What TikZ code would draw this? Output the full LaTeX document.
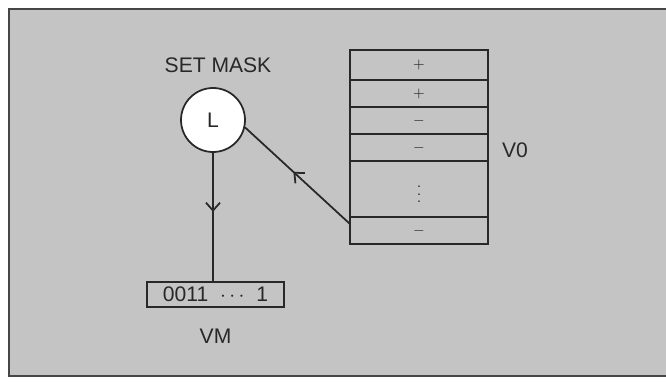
\documentclass[tikz,border=0pt]{standalone}
\usepackage{fontspec}
\setmainfont{Liberation Sans}
\usetikzlibrary{calc, positioning, arrows.meta, decorations.markings}
\definecolor{PaperGrey}{RGB}{196,196,196}
\definecolor{InkGrey}{RGB}{40,40,40}
\definecolor{FrameGrey}{RGB}{70,70,70}

\begin{document}
\begin{tikzpicture}[
  font=\fontsize{12}{14}\selectfont,
  color=InkGrey,
  line width=1pt,
  cell/.style={draw, minimum width=2.76cm, minimum height=0.54cm, inner sep=0pt, outer sep=0pt, font=\footnotesize},
  maskreg/.style={draw, minimum width=2.74cm, minimum height=0.5cm, inner sep=0pt},
  op/.style={circle, draw, fill=white, minimum size=1.28cm, inner sep=0pt},
  midarrow/.style={postaction={decorate}, decoration={markings,
    mark=at position #1 with {\arrow{Straight Barb[length=4.5pt, width=8pt]}}}},
]
\useasboundingbox (0,0) rectangle (13.32,7.62);

% Paper
\fill[PaperGrey] (0.18,0.10) rectangle (13.32,7.44);
\draw[FrameGrey, line width=1.2pt] (13.32,7.44) -- (0.18,7.44) -- (0.18,0.10) -- (13.32,0.10);

% Set-mask operation
\node[op] (L) at (4.26,5.22) {L};
\node (title) at (4.36,6.32) {SET MASK};

% Vector register V0
\node[cell, minimum height=0.6cm] (r1) at (8.38,6.32) {$+$};
\node[cell, below=0cm of r1] (r2) {$+$};
\node[cell, below=0cm of r2] (r3) {$-$};
\node[cell, below=0cm of r3] (r4) {$-$};
\node[cell, below=0cm of r4, minimum height=1.12cm] (r5) {$\vdots$};
\node[cell, below=0cm of r5] (r6) {$-$};
\node (v0) at (10.30,4.62) {V0};

% Mask register VM
\node[maskreg] (vm) at (4.31,1.73) {0011\ \ $\cdots$\ \ 1};
\node[below=0.28cm of vm] (vmlabel) {VM};

% Connectors
\draw[midarrow=0.46] (L) -- (L |- vm.north);
\draw[midarrow=0.54] ($(r6.west)+(0,0.13)$) -- (L.-13);

\end{tikzpicture}
\end{document}
